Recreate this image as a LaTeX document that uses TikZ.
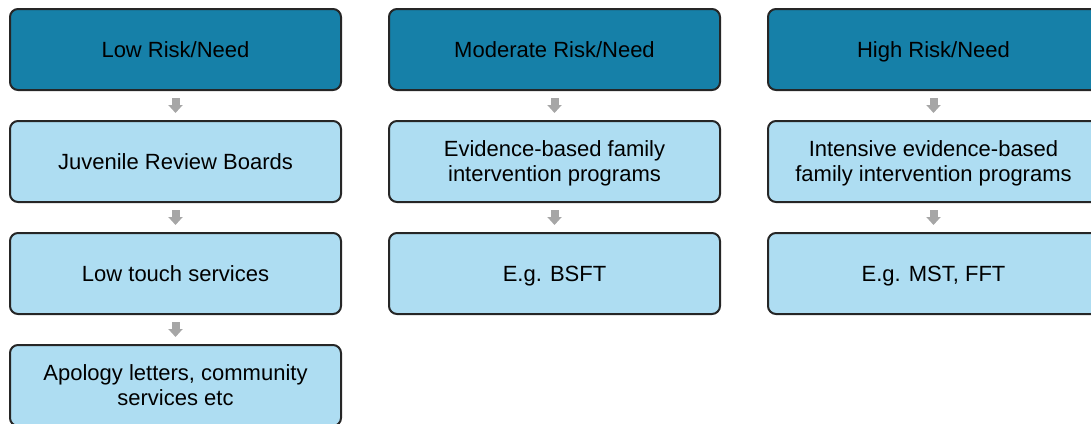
\documentclass[tikz,border=0pt]{standalone}
\usepackage{fontspec}
\setmainfont{Liberation Sans}
\usepackage{xcolor}
\usetikzlibrary{positioning,arrows.meta}
\definecolor{hdrblue}{RGB}{22,128,168}
\definecolor{boxblue}{RGB}{174,221,242}
\definecolor{arrowgray}{RGB}{166,166,166}

\begin{document}
\begin{tikzpicture}[
		node distance=14.5pt and 23pt,
		box/.style={draw=black!85, line width=1pt, rounded corners=4pt, fill=boxblue,
			minimum width=165.5pt, minimum height=40.5pt, inner sep=2pt, align=center,
			text height=10pt, text depth=2.1pt, font=\fontsize{11}{12.5}\selectfont},
		hdr/.style={box, fill=hdrblue},
		twolines/.style={text height=22.5pt},
		flowarrow/.style={arrowgray, line width=4pt, shorten <=3.5pt, shorten >=3.5pt,
			-{Triangle[width=7pt,length=4pt]}}
	]
		\useasboundingbox (0,0) rectangle (545.5pt,-211.5pt);
		% low risk column
		\node[hdr] (l0) at (87.75pt,-24.75pt) {Low Risk/Need};
		\node[box, below=of l0] (l1) {Juvenile Review Boards};
		\node[box, below=of l1] (l2) {Low touch services};
		\node[box, twolines, below=of l2] (l3) {Apology letters, community\\services etc};
		% moderate risk column
		\node[hdr, right=of l0] (m0) {Moderate Risk/Need};
		\node[box, twolines, below=of m0] (m1) {Evidence-based family\\intervention programs};
		\node[box, below=of m1] (m2) {E.g. BSFT};
		% high risk column
		\node[hdr, right=of m0] (h0) {High Risk/Need};
		\node[box, twolines, below=of h0] (h1) {Intensive evidence-based\\family intervention programs};
		\node[box, below=of h1] (h2) {E.g. MST, FFT};
		\foreach \a/\b in {l0/l1, l1/l2, l2/l3, m0/m1, m1/m2, h0/h1, h1/h2}
			\draw[flowarrow] (\a) -- (\b);
	\end{tikzpicture}
\end{document}
